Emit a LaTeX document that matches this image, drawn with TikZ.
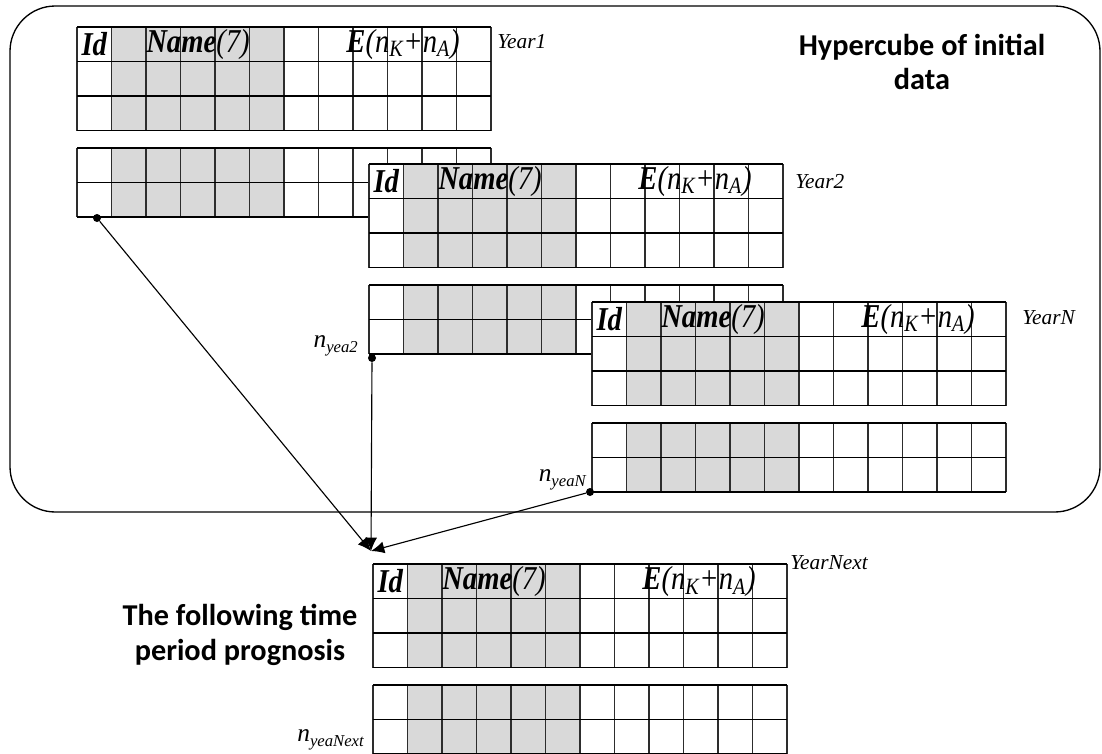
\documentclass[tikz,border=0pt]{standalone}
\usepackage{fontspec}
\setmainfont{Liberation Serif}
\newfontfamily\hdrfont{Liberation Serif}[FakeStretch=0.86]
\newfontfamily\boldsans{Carlito}
\usetikzlibrary{arrows.meta}
\definecolor{cellgray}{RGB}{217,217,217}
\definecolor{linegray}{RGB}{45,45,45}
\tikzset{
 hline/.style={draw=black,line width=1.25pt},
 vline/.style={draw=linegray,line width=1.05pt},
 hdr/.style={font=\fontsize{25}{26}\hdrfont\itshape, inner sep=0pt},
 yearlbl/.style={font=\fontsize{16}{17}\selectfont\itshape, anchor=west, inner sep=0pt},
 nlbl/.style={anchor=east, inner sep=0pt},
 titletext/.style={font=\fontsize{22.7}{26}\selectfont\boldsans\bfseries, align=center, inner sep=0pt},
 dotnode/.style={circle, fill=black, inner sep=0pt, minimum size=6pt},
 conn/.style={draw=black, line width=0.85pt, -{Latex[length=10pt,width=9pt]}},
 hyperbox/.style={draw=black, line width=1pt, rounded corners=34pt},
}
\newcommand\dtab[3]{%
 \begin{scope}[shift={(#1,#2)}]
  \fill[white] (0,0) rectangle (414,103.5);
  \fill[white] (0,121) rectangle (414,190);
  \fill[cellgray] (34.5,0) rectangle (207,103.5);
  \fill[cellgray] (34.5,121) rectangle (207,190);
  \foreach \i in {0,...,12} {
    \draw[vline] ({\i*34.5},0) -- ({\i*34.5},103.5);
    \draw[vline] ({\i*34.5},121) -- ({\i*34.5},190);
  }
  \foreach \j in {0,1,2,3} \draw[hline] (0,{\j*34.5}) -- (414,{\j*34.5});
  \foreach \j in {0,1,2} \draw[hline] (0,{121+\j*34.5}) -- (414,{121+\j*34.5});
  \node[hdr] (#3id) at (17.25,17) {\textbf{Id}};
  \node[hdr] (#3name) at (121,17) {\textbf{Name}(7)};
  \node[hdr] (#3e) at (326,17) {\textbf{E}(n\textsubscript{K}+n\textsubscript{A})};
 \end{scope}}
\newcommand\nlabel[1]{{\fontsize{19}{19}\selectfont\itshape n}\raisebox{-4pt}{\fontsize{12.5}{12.5}\selectfont\itshape #1}}
\begin{document}
\begin{tikzpicture}[x=0.75pt,y=-0.75pt]
\useasboundingbox (0,0) rectangle (1102,753);
\draw[hyperbox] (10,6) rectangle (1100,512);
\dtab{77}{27}{tA}
\node[yearlbl] (y1) at (497,42) {Year1};
\dtab{369}{164}{tB}
\node[yearlbl] (y2) at (795,182) {Year2};
\dtab{592}{302}{tC}
\node[yearlbl] (yN) at (1022,318) {YearN};
\dtab{373}{564}{tD}
\node[yearlbl] (yNext) at (790,563) {YearNext};
\node[nlbl] (n2) at (358,346) {\nlabel{yea2}};
\node[nlbl] (nN) at (586,480) {\nlabel{yeaN}};
\node[nlbl] (nNext) at (364,740) {\nlabel{yeaNext}};
\node[titletext] (hyper) at (922,62) {Hypercube of initial\\data};
\node[titletext] (prog) at (240,635) {The following time\\period prognosis};
\node[dotnode] (d1) at (97,218) {};
\node[dotnode] (d2) at (372,358) {};
\node[dotnode] (d3) at (590,492) {};
\coordinate (meet) at (371,551);
\draw[conn] (d1) -- (meet);
\draw[conn] (d2) -- (meet);
\draw[conn] (d3) -- (meet);
\end{tikzpicture}
\end{document}
